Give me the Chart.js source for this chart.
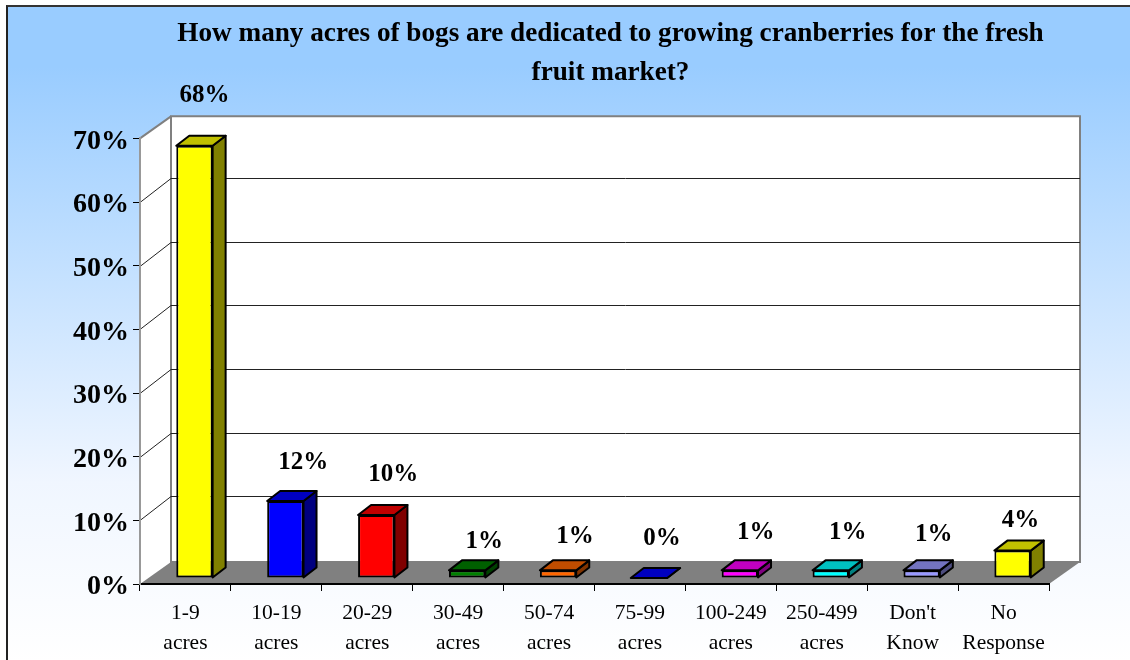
<!DOCTYPE html>
<html>
<head>
<meta charset="utf-8">
<title>Cranberry bogs</title>
<script src="https://cdn.jsdelivr.net/npm/chart.js@4"></script>
<style>
	html, body { margin: 0; padding: 0; background: #fff; overflow: hidden; }
	#panel {
		position: absolute; left: 6px; top: 5px; right: 0; bottom: 0;
		border-left: 2px solid #222; border-top: 2px solid #333;
		background: linear-gradient(to bottom, #99ccff 0, #99ccff 60px, #f0f6ff 475px, #ffffff 655px);
	}
	#myChart { position: absolute; left: 0; top: 0; }
</style>
</head>
<body>
<div id="panel"></div>
<canvas id="myChart" width="1130" height="660"></canvas>
<script>
// Values
const categories = [['1-9', 'acres'], ['10-19', 'acres'], ['20-29', 'acres'], ['30-49', 'acres'], ['50-74', 'acres'],
	['75-99', 'acres'], ['100-249', 'acres'], ['250-499', 'acres'], ["Don't", 'Know'], ['No', 'Response']];
const shares = [67.9, 12.1, 9.9, 1.2, 1.2, 0, 1.2, 1.2, 1.2, 4.3];
const titleLines = ['How many acres of bogs are dedicated to growing cranberries for the fresh', 'fruit market?'];

// Colours of the bars: front, top, side
const frontColors = ['#ffff00', '#0000ff', '#ff0000', '#008000', '#ff6600', '#0000cc', '#ff00ff', '#00ffff', '#9999ff', '#ffff00'];
const topColors = ['#c0c000', '#0000c0', '#c00000', '#006000', '#c04d00', '#0000c0', '#c000c0', '#00c0c0', '#7373c0', '#c0c000'];
const sideColors = ['#808000', '#000080', '#800000', '#004000', '#803300', '#000080', '#800080', '#008080', '#4d4d80', '#808000'];

// Where each percent label sits relative to the bar top
const labelDx = [10, 18, 17, 17, 17, 13, 16, 17, 12, 8];
const labelDy = [-50, -38, -40, -29, -34, -39, -38, -38, -36, -30];

const WALL_DX = 31, WALL_DY = -22;	// depth of the whole plot box
const BAR_SHIFT_X = 9, BAR_SHIFT_Y = -6;	// bars stand inside the box
const BAR_DX = 13, BAR_DY = -10;	// depth of a bar

function poly(ctx, pts, fill, stroke, lw) {
	ctx.beginPath();
	pts.forEach((p, i) => i ? ctx.lineTo(p[0], p[1]) : ctx.moveTo(p[0], p[1]));
	ctx.closePath();
	if (fill) { ctx.fillStyle = fill; ctx.fill(); }
	if (stroke) { ctx.strokeStyle = stroke; ctx.lineWidth = lw; ctx.stroke(); }
}

const box3d = {
	id: 'box3d',
	afterLayout(chart) {
		// title is centred over the wall, not the page
		chart.titleBlock.left += 86;
		chart.titleBlock.right += 86;
		// percent labels sit a little under their tick marks
		chart.scales.y.getLabelItems().forEach(item => { item.options.translation[1] += 3; });
	},
	beforeDraw(chart) {
		const ctx = chart.ctx, a = chart.chartArea, y = chart.scales.y;
		const bx = a.left + WALL_DX, bt = a.top + WALL_DY, bb = a.bottom + WALL_DY, br = a.right + WALL_DX;
		ctx.save();
		poly(ctx, [[a.left, a.top], [bx, bt], [bx, bb], [a.left, a.bottom]], '#fff');
		poly(ctx, [[bx, bt], [br, bt], [br, bb], [bx, bb]], '#fff', '#808080', 2);
		// gridlines run along the side wall and then the back wall
		y.ticks.forEach(t => {
			if (t.value === 0 || t.value === 70) return;
			const py = Math.round(y.getPixelForValue(t.value)) + 0.5;
			ctx.beginPath();
			ctx.moveTo(a.left, py);
			ctx.lineTo(bx, py + WALL_DY - 2);
			ctx.lineTo(br, py + WALL_DY - 2);
			ctx.strokeStyle = '#222';
			ctx.lineWidth = 1;
			ctx.stroke();
		});
		ctx.beginPath();
		ctx.moveTo(a.left, a.top);
		ctx.lineTo(bx, bt);
		ctx.strokeStyle = '#808080';
		ctx.lineWidth = 2;
		ctx.stroke();
		poly(ctx, [[a.left, a.bottom], [a.right, a.bottom], [br, bb], [bx, bb]], '#808080');
		ctx.restore();
	},
	beforeDatasetsDraw(chart) {
		const ctx = chart.ctx;
		ctx.save();
		ctx.translate(BAR_SHIFT_X, BAR_SHIFT_Y);
		ctx.lineJoin = 'round';
		chart.getDatasetMeta(0).data.forEach((bar, i) => {
			const l = bar.x - bar.width / 2, r = bar.x + bar.width / 2;
			poly(ctx, [[r, bar.y], [r + BAR_DX, bar.y + BAR_DY], [r + BAR_DX, bar.base + BAR_DY], [r, bar.base]], sideColors[i], '#000', 2);
			poly(ctx, [[l, bar.y], [l + BAR_DX, bar.y + BAR_DY], [r + BAR_DX, bar.y + BAR_DY], [r, bar.y]], topColors[i], '#000', 2);
		});
	},
	afterDatasetsDraw(chart) {
		const ctx = chart.ctx;
		ctx.restore();
		ctx.save();
		ctx.font = 'bold 25px "Liberation Serif"';
		ctx.fillStyle = '#000';
		ctx.textAlign = 'center';
		ctx.textBaseline = 'middle';
		chart.getDatasetMeta(0).data.forEach((bar, i) => {
			ctx.fillText(Math.round(shares[i]) + '%', bar.x + BAR_SHIFT_X + labelDx[i], bar.y + BAR_SHIFT_Y + labelDy[i]);
		});
		ctx.restore();
	}
};

new Chart(document.getElementById('myChart'), {
	type: 'bar',
	data: {
		labels: categories,
		datasets: [{
			data: shares,
			backgroundColor: frontColors,
			borderColor: '#000',
			borderWidth: 2,
			borderSkipped: false,
			barPercentage: 0.4,
			categoryPercentage: 1,
			clip: false
		}]
	},
	options: {
		responsive: false,
		animation: false,
		layout: { padding: { left: 0, right: 81, top: 0, bottom: 0 } },
		plugins: {
			legend: { display: false },
			tooltip: { enabled: false },
			title: {
				display: true,
				text: titleLines,
				color: '#000',
				font: { family: '"Liberation Serif"', size: 27.2, weight: 'bold', lineHeight: 1.44 },
				padding: { top: 14, bottom: 46 }
			}
		},
		scales: {
			x: {
				afterFit(scale) { scale.height = 76; },
				border: { color: '#000', width: 2 },
				grid: { drawOnChartArea: false, color: '#000', tickLength: 7 },
				ticks: {
					autoSkip: false, maxRotation: 0, minRotation: 0, padding: 8, color: '#000',
					font: { family: '"Liberation Serif"', size: 21.5, lineHeight: 1.36 }
				}
			},
			y: {
				min: 0, max: 70,
				afterFit(scale) { scale.width = 140; },
				border: { color: '#999', width: 2 },
				grid: { drawOnChartArea: false, color: '#000', tickLength: 7 },
				ticks: {
					stepSize: 10, padding: 4, color: '#000',
					font: { family: '"Liberation Serif"', size: 28, weight: 'bold' },
					callback: v => v + '%'
				}
			}
		}
	},
	plugins: [box3d]
});
</script>
</body>
</html>
